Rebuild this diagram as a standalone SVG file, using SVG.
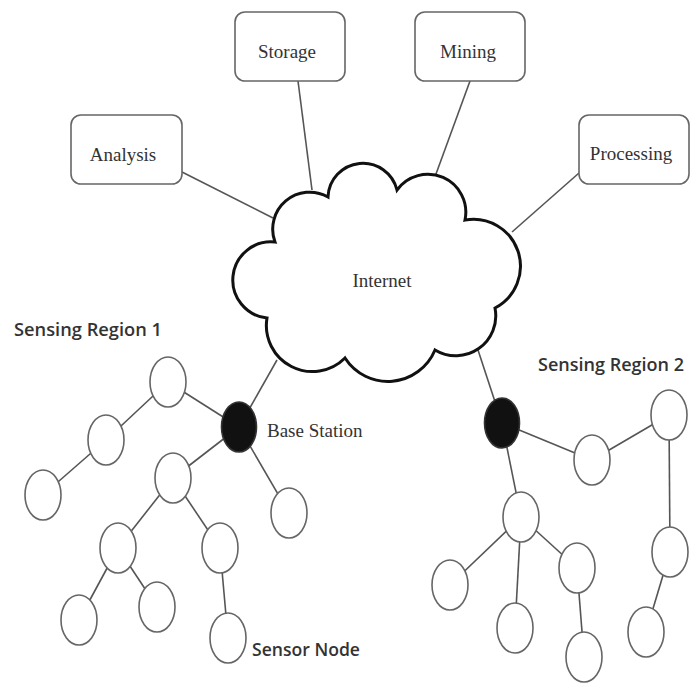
<svg xmlns="http://www.w3.org/2000/svg" width="697" height="685" viewBox="0 0 697 685">
<style>
.box{fill:#fff;stroke:#666;stroke-width:1.6}
.serif{font-family:"Liberation Serif","Times New Roman",serif;font-size:19px;fill:#333}
.sans{font-family:"Open Sans",Lato,"Liberation Sans",sans-serif;font-size:18.5px;font-weight:600;fill:#333}
.node{fill:#fff;stroke:#666;stroke-width:1.6}
.bs{fill:#111;stroke:#333;stroke-width:1.6}
.edge{stroke:#555;stroke-width:1.6;fill:none}
.cloud{fill:#fff;stroke:#111;stroke-width:3}
</style>
<rect width="697" height="685" fill="#fff"/>
<g id="connectors">
<line class="edge" x1="298" y1="81" x2="312" y2="190"/>
<line class="edge" x1="182" y1="172" x2="273" y2="218"/>
<line class="edge" x1="470" y1="81" x2="436" y2="174"/>
<line class="edge" x1="579" y1="173" x2="512" y2="232"/>
<line class="edge" x1="277" y1="360" x2="239" y2="427"/>
<line class="edge" x1="478" y1="350" x2="502" y2="423"/>
<line class="edge" x1="239" y1="427" x2="168" y2="382"/>
<line class="edge" x1="168" y1="382" x2="106" y2="440"/>
<line class="edge" x1="106" y1="440" x2="43" y2="495"/>
<line class="edge" x1="239" y1="427" x2="173" y2="478"/>
<line class="edge" x1="239" y1="427" x2="289" y2="513"/>
<line class="edge" x1="173" y1="478" x2="118" y2="548"/>
<line class="edge" x1="173" y1="478" x2="220" y2="548"/>
<line class="edge" x1="118" y1="548" x2="79" y2="620"/>
<line class="edge" x1="118" y1="548" x2="157" y2="607"/>
<line class="edge" x1="220" y1="548" x2="228" y2="638"/>
<line class="edge" x1="502" y1="423" x2="592" y2="460"/>
<line class="edge" x1="592" y1="460" x2="669" y2="415"/>
<line class="edge" x1="669" y1="415" x2="670" y2="552"/>
<line class="edge" x1="670" y1="552" x2="646" y2="632"/>
<line class="edge" x1="502" y1="423" x2="521" y2="517"/>
<line class="edge" x1="521" y1="517" x2="450" y2="585"/>
<line class="edge" x1="521" y1="517" x2="515" y2="628"/>
<line class="edge" x1="521" y1="517" x2="577" y2="568"/>
<line class="edge" x1="577" y1="568" x2="584" y2="657"/>
</g>
<g id="storage"><rect class="box" x="235" y="12" width="110" height="69" rx="10"/><text class="serif" x="287" y="58" text-anchor="middle">Storage</text></g>
<g id="analysis"><rect class="box" x="71" y="115" width="111" height="69" rx="10"/><text class="serif" x="123" y="161" text-anchor="middle">Analysis</text></g>
<g id="mining"><rect class="box" x="415" y="12" width="110" height="69" rx="10"/><text class="serif" x="468" y="58" text-anchor="middle">Mining</text></g>
<g id="processing"><rect class="box" x="579" y="115" width="110" height="69" rx="10"/><text class="serif" x="631" y="160" text-anchor="middle">Processing</text></g>
<g id="internet">
<path class="cloud" d="M275,242 A37,37 0 0 1 328,197 A35,35 0 0 1 397,190 A38,38 0 0 1 465,220 A47,47 0 0 1 495,308 A40,40 0 0 1 435,350 A51,51 0 0 1 345,358 A46,46 0 0 1 267,318 A38,38 0 0 1 275,242 Z"/>
<text class="serif" x="382" y="287" text-anchor="middle">Internet</text>
</g>
<g id="label-region1"><text class="sans" x="14" y="336" textLength="148" lengthAdjust="spacingAndGlyphs">Sensing Region 1</text></g>
<g id="label-region2"><text class="sans" x="538" y="371" textLength="146" lengthAdjust="spacingAndGlyphs">Sensing Region 2</text></g>
<g id="bs1"><ellipse class="bs" cx="239" cy="427" rx="17.5" ry="25"/><text class="serif" x="267" y="437">Base Station</text></g>
<g id="bs2"><ellipse class="bs" cx="502" cy="423" rx="17.5" ry="25"/></g>
<g id="r1n1"><ellipse class="node" cx="168" cy="382" rx="18" ry="25"/></g>
<g id="r1n2"><ellipse class="node" cx="106" cy="440" rx="18" ry="25"/></g>
<g id="r1n3"><ellipse class="node" cx="43" cy="495" rx="18" ry="25"/></g>
<g id="r1n4"><ellipse class="node" cx="173" cy="478" rx="18" ry="25"/></g>
<g id="r1n5"><ellipse class="node" cx="289" cy="513" rx="18" ry="25"/></g>
<g id="r1n6"><ellipse class="node" cx="118" cy="548" rx="18" ry="25"/></g>
<g id="r1n7"><ellipse class="node" cx="220" cy="548" rx="18" ry="25"/></g>
<g id="r1n8"><ellipse class="node" cx="79" cy="620" rx="18" ry="25"/></g>
<g id="r1n9"><ellipse class="node" cx="157" cy="607" rx="18" ry="25"/></g>
<g id="r1n10"><ellipse class="node" cx="228" cy="638" rx="18" ry="25"/><text class="sans" x="252" y="656" textLength="108" lengthAdjust="spacingAndGlyphs">Sensor Node</text></g>
<g id="r2n1"><ellipse class="node" cx="592" cy="460" rx="18" ry="25"/></g>
<g id="r2n2"><ellipse class="node" cx="669" cy="415" rx="18" ry="25"/></g>
<g id="r2n3"><ellipse class="node" cx="521" cy="517" rx="18" ry="25"/></g>
<g id="r2n4"><ellipse class="node" cx="450" cy="585" rx="18" ry="25"/></g>
<g id="r2n5"><ellipse class="node" cx="515" cy="628" rx="18" ry="25"/></g>
<g id="r2n6"><ellipse class="node" cx="577" cy="568" rx="18" ry="25"/></g>
<g id="r2n7"><ellipse class="node" cx="584" cy="657" rx="18" ry="25"/></g>
<g id="r2n8"><ellipse class="node" cx="670" cy="552" rx="18" ry="25"/></g>
<g id="r2n9"><ellipse class="node" cx="646" cy="632" rx="18" ry="25"/></g>
</svg>
